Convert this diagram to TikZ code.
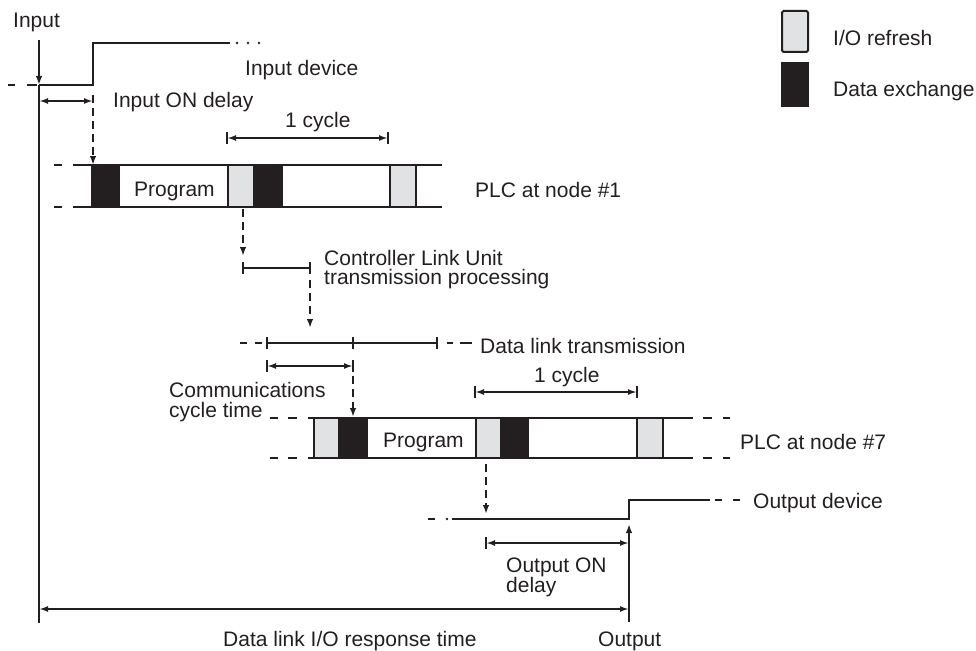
\documentclass[tikz,border=0pt]{standalone}
\usepackage{fontspec}
\setmainfont{Liberation Sans}
\usetikzlibrary{arrows.meta}
\definecolor{ink}{HTML}{231F20}
\definecolor{refgray}{HTML}{E1E2E4}
\begin{document}
\begin{tikzpicture}[x=1pt,y=-1pt,
  every node/.style={font=\fontsize{21}{20}\selectfont, text=ink, inner sep=0pt},
  ln/.style={draw=ink, line width=2.2pt},
  thinln/.style={draw=ink, line width=1.8pt},
  darr/.style={draw=ink, line width=2.2pt, dash pattern=on 8pt off 5pt, arrows={-Latex[length=9pt,width=6.5pt]}},
  dim/.style={draw=ink, line width=1.8pt, arrows={Latex[length=9pt,width=6pt]-Latex[length=9pt,width=6pt]}},
  gblk/.style={draw=ink, fill=refgray, line width=2pt},
  bblk/.style={draw=ink, fill=ink, line width=2pt},
  txt/.style={anchor=base west},
]
\useasboundingbox (0,0) rectangle (976,650);

% ---------- legend ----------
\node[gblk, minimum width=26pt, minimum height=41pt, rounded corners=1.5pt] (lgGray) at (795,31.5) {};
\node[bblk, minimum width=26pt, minimum height=43pt] (lgBlack) at (795,84.5) {};
\node[txt] (lgText1) at (833,46) {I/O refresh};
\node[txt] (lgText2) at (833,97) {Data exchange};

% ---------- input ----------
\node[txt] (inLabel) at (13,28) {Input};
\coordinate (inArrowTop) at (39,40);
\coordinate (vTop) at (39,85);
\coordinate (vBot) at (39,623);
\draw[ln, arrows={-Latex[length=9pt,width=6.5pt]}] (inArrowTop) -- (vTop);
\draw[ln] (vTop) -- (vBot);
\draw[ln] (8,85) -- (15,85) (27,85) -- (37,85);
\draw[ln] (39,85) -- (93,85) -- (93,43) -- (230,43);
\fill[ink] (237,43) circle (1.4) (248,43) circle (1.4) (259,43) circle (1.4);
\node[txt] (inDevice) at (245,76) {Input device};

\coordinate (inDelayL) at (39,101);
\coordinate (inDelayR) at (93,101);
\draw[dim] (inDelayL) -- (inDelayR);
\node[txt] (inDelayText) at (113,108) {Input ON delay};
\coordinate (inDashTop) at (93,95);
\coordinate (plcOneIn) at (93,165);
\draw[darr] (inDashTop) -- (plcOneIn);

% ---------- PLC at node #1 ----------
\draw[ln] (54,165) -- (62,165) (73,165) -- (442,165);
\draw[ln] (54,207) -- (62,207) (73,207) -- (442,207);
\draw[bblk] (92,165) rectangle (119,207);
\draw[gblk] (228,165) rectangle (254,207);
\draw[bblk] (254,165) rectangle (282,207);
\draw[gblk] (390,165) rectangle (416,207);
\node[txt] (progOne) at (134,196) {Program};
\node[txt] (plcOne) at (475,197) {PLC at node \#1};

\coordinate (cycOneL) at (227,138);
\coordinate (cycOneR) at (388,138);
\draw[thinln] (227,132) -- (227,144) (388,132) -- (388,144);
\draw[dim] (cycOneL) -- (cycOneR);
\node[txt] (cycOneText) at (285,128) {1 cycle};

% ---------- Controller Link Unit ----------
\coordinate (cluTop) at (243,209);
\coordinate (cluL) at (243,268);
\coordinate (cluR) at (310,268);
\draw[darr] (cluTop) -- (243,256);
\draw[thinln] (243,262) -- (243,274) (310,262) -- (310,274);
\draw[thinln] (cluL) -- (cluR);
\coordinate (cluDash) at (310,280);
\coordinate (dlIn) at (310,328);
\draw[darr] (cluDash) -- (dlIn);
\node[txt] (cluText1) at (324,265) {Controller Link Unit};
\node[txt] (cluText2) at (324,284) {transmission processing};

% ---------- data link transmission ----------
\draw[ln] (240,343) -- (247,343) (255,343) -- (262,343) (267,343) -- (437,343)
          (447,343) -- (453,343) (460,343) -- (472,343);
\draw[thinln] (267,337) -- (267,349) (353,337) -- (353,349) (437,337) -- (437,349);
\node[txt] (dlText) at (480,353) {Data link transmission};

\coordinate (ccL) at (267,366);
\coordinate (ccR) at (353,366);
\draw[thinln] (267,360) -- (267,372) (353,360) -- (353,372);
\draw[dim] (ccL) -- (ccR);
\coordinate (ccDash) at (353,376);
\coordinate (plcSevenIn) at (353,417);
\draw[darr] (ccDash) -- (plcSevenIn);
\node[txt] (ccText1) at (169,397) {Communications};
\node[txt] (ccText2) at (169,417) {cycle time};

% ---------- PLC at node #7 ----------
\draw[ln] (270,418) -- (278,418) (288,418) -- (297,418) (308,418) -- (693,418)
          (703,418) -- (712,418) (723,418) -- (730,418);
\draw[ln] (270,458) -- (278,458) (288,458) -- (297,458) (308,458) -- (693,458)
          (703,458) -- (712,458) (723,458) -- (730,458);
\draw[gblk] (314,418) rectangle (339,458);
\draw[bblk] (339,418) rectangle (367,458);
\draw[gblk] (476,418) rectangle (501,458);
\draw[bblk] (501,418) rectangle (528,458);
\draw[gblk] (637,418) rectangle (663,458);
\node[txt] (progSeven) at (383,447) {Program};
\node[txt] (plcSeven) at (740,449) {PLC at node \#7};

\coordinate (cycSevenL) at (475,392);
\coordinate (cycSevenR) at (637,392);
\draw[thinln] (475,386) -- (475,398) (637,386) -- (637,398);
\draw[dim] (cycSevenL) -- (cycSevenR);
\node[txt] (cycSevenText) at (534,382) {1 cycle};

% ---------- output ----------
\coordinate (outDash) at (486,464);
\coordinate (outIn) at (486,514);
\draw[darr] (outDash) -- (outIn);
\draw[ln] (428,519) -- (435,519);
\fill[ink] (447,519) circle (1.4);
\draw[ln] (452,519) -- (629,519) -- (629,500) -- (710,500);
\draw[ln] (715,500) -- (722,500) (733,500) -- (740,500);
\node[txt] (outDevice) at (753,508) {Output device};

\coordinate (outVBot) at (629,622);
\coordinate (outVTop) at (629,524);
\draw[ln, arrows={-Latex[length=9pt,width=6.5pt]}] (outVBot) -- (outVTop);

\coordinate (odL) at (486,543);
\coordinate (odR) at (629,543);
\draw[thinln] (486,537) -- (486,549);
\draw[dim] (odL) -- (odR);
\node[txt] (odText1) at (506,572) {Output ON};
\node[txt] (odText2) at (506,592) {delay};

\coordinate (rtL) at (39,609);
\coordinate (rtR) at (629,609);
\draw[dim] (rtL) -- (rtR);
\node[txt] (rtText) at (223,646) {Data link I/O response time};
\node[txt] (outText) at (598,646) {Output};
\end{tikzpicture}
\end{document}
